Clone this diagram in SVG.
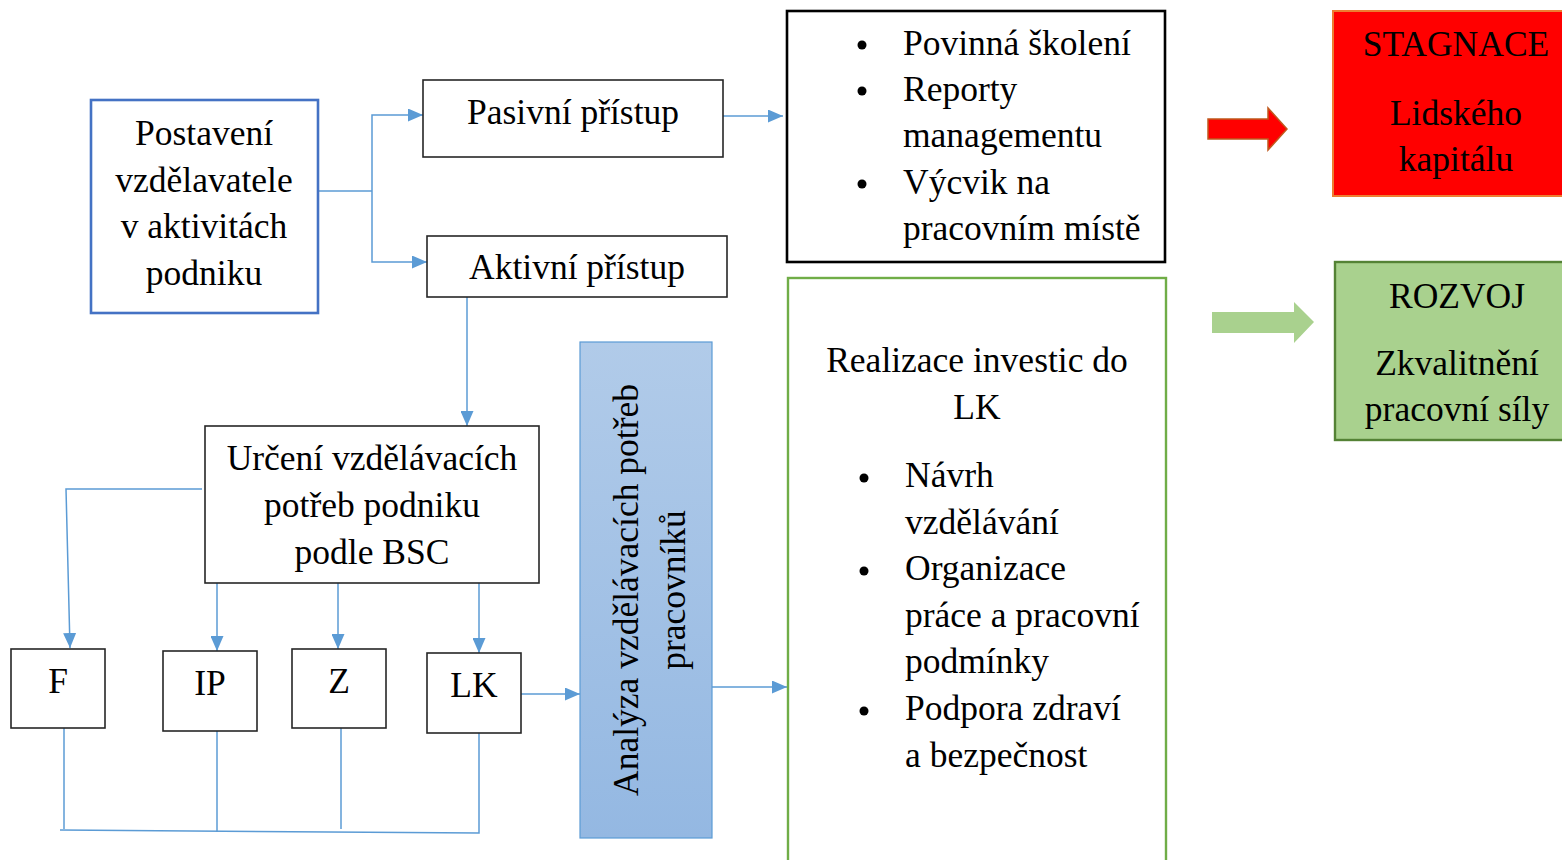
<svg xmlns="http://www.w3.org/2000/svg" width="1562" height="860" viewBox="0 0 1562 860">
<defs>
<marker id="arr" viewBox="0 0 15 13" refX="15" refY="6.5" markerWidth="15" markerHeight="13" markerUnits="userSpaceOnUse" orient="auto">
<path d="M0,0 L15,6.5 L0,13 z" fill="#5b9bd5"/>
</marker>
<linearGradient id="blueGrad" x1="0" y1="0" x2="0" y2="1">
<stop offset="0" stop-color="#b1cbe9"/>
<stop offset="1" stop-color="#94b8e2"/>
</linearGradient>
<style>
text{font-family:"Liberation Serif","Times New Roman",serif;font-size:35.5px;fill:#000}
.c{text-anchor:middle}
.box{fill:#fff;stroke:#262626;stroke-width:1.6}
.conn{fill:none;stroke:#5b9bd5;stroke-width:1.5}
.bul{fill:#000}
</style>
</defs>

<g id="connectors">
<path class="conn" d="M318,191 H372"/>
<path class="conn" d="M372,191 V115 H423" marker-end="url(#arr)"/>
<path class="conn" d="M372,191 V262 H427" marker-end="url(#arr)"/>
<path class="conn" d="M723,116 H783" marker-end="url(#arr)"/>
<path class="conn" d="M467,297 V426" marker-end="url(#arr)"/>
<path class="conn" d="M202,489 H66 L70,648" marker-end="url(#arr)"/>
<path class="conn" d="M217,583 V651" marker-end="url(#arr)"/>
<path class="conn" d="M338,583 V649" marker-end="url(#arr)"/>
<path class="conn" d="M479,583 V653" marker-end="url(#arr)"/>
<path class="conn" d="M521,694 H580" marker-end="url(#arr)"/>
<path class="conn" d="M712,687 H787" marker-end="url(#arr)"/>
<path class="conn" d="M64,728 V829"/>
<path class="conn" d="M217,731 V832"/>
<path class="conn" d="M341,728 V829"/>
<path class="conn" d="M479,733 V833 L60,830"/>
</g>

<g id="postaveni">
<rect x="91" y="100" width="227" height="213" fill="#fff" stroke="#4472c4" stroke-width="2.6"/>
<text class="c" x="204" y="145">Postavení</text>
<text class="c" x="204" y="192">vzdělavatele</text>
<text class="c" x="204" y="238">v aktivitách</text>
<text class="c" x="204" y="285">podniku</text>
</g>

<g id="pasivni">
<rect class="box" x="423" y="80" width="300" height="77"/>
<text class="c" x="573" y="124">Pasivní přístup</text>
</g>

<g id="aktivni">
<rect class="box" x="427" y="236" width="300" height="61"/>
<text class="c" x="577" y="279">Aktivní přístup</text>
</g>

<g id="pasivni-obsah">
<rect x="787" y="11" width="378" height="251" fill="#fff" stroke="#000" stroke-width="2.6"/>
<circle class="bul" cx="862" cy="45" r="4.5"/>
<circle class="bul" cx="862" cy="91" r="4.5"/>
<circle class="bul" cx="862" cy="184" r="4.5"/>
<text x="903" y="55">Povinná školení</text>
<text x="903" y="101">Reporty</text>
<text x="903" y="147">managementu</text>
<text x="903" y="194">Výcvik na</text>
<text x="903" y="240">pracovním místě</text>
</g>

<g id="sipka-stagnace">
<path d="M1208,119 H1268 V108 L1287,129 L1268,150 V139 H1208 Z" fill="#ff0000" stroke="#c0581c" stroke-width="1.5"/>
</g>

<g id="stagnace">
<rect x="1333" y="11" width="240" height="185" fill="#ff0000" stroke="#ed7d31" stroke-width="2"/>
<text class="c" x="1456" y="56">STAGNACE</text>
<text class="c" x="1456" y="125">Lidského</text>
<text class="c" x="1456" y="171">kapitálu</text>
</g>

<g id="sipka-rozvoj">
<path d="M1212,312 H1294 V302 L1314,322 L1294,343 V333 H1212 Z" fill="#a9d18e"/>
</g>

<g id="rozvoj">
<rect x="1335" y="262" width="240" height="178" fill="#a9d18e" stroke="#548235" stroke-width="2.4"/>
<text class="c" x="1457" y="308">ROZVOJ</text>
<text class="c" x="1457" y="375">Zkvalitnění</text>
<text class="c" x="1457" y="421">pracovní síly</text>
</g>

<g id="aktivni-obsah">
<rect x="788" y="278" width="378" height="600" fill="#fff" stroke="#70ad47" stroke-width="2.4"/>
<text class="c" x="977" y="372">Realizace investic do</text>
<text class="c" x="977" y="419">LK</text>
<circle class="bul" cx="864" cy="478" r="4.5"/>
<circle class="bul" cx="864" cy="571" r="4.5"/>
<circle class="bul" cx="864" cy="711" r="4.5"/>
<text x="905" y="487">Návrh</text>
<text x="905" y="534">vzdělávání</text>
<text x="905" y="580">Organizace</text>
<text x="905" y="627">práce a pracovní</text>
<text x="905" y="673">podmínky</text>
<text x="905" y="720">Podpora zdraví</text>
<text x="905" y="767">a bezpečnost</text>
</g>

<g id="urceni">
<rect class="box" x="205" y="426" width="334" height="157"/>
<text class="c" x="372" y="470">Určení vzdělávacích</text>
<text class="c" x="372" y="517">potřeb podniku</text>
<text class="c" x="372" y="564">podle BSC</text>
</g>

<g id="F">
<rect class="box" x="11" y="649" width="94" height="79"/>
<text class="c" x="58" y="693">F</text>
</g>
<g id="IP">
<rect class="box" x="163" y="651" width="94" height="80"/>
<text class="c" x="210" y="695">IP</text>
</g>
<g id="Z">
<rect class="box" x="292" y="649" width="94" height="79"/>
<text class="c" x="339" y="693">Z</text>
</g>
<g id="LK">
<rect class="box" x="427" y="653" width="94" height="80"/>
<text class="c" x="474" y="697">LK</text>
</g>

<g id="analyza">
<rect x="580" y="342" width="132" height="496" fill="url(#blueGrad)" stroke="#5b9bd5" stroke-width="1.2"/>
<g transform="translate(0,590) rotate(-90)">
<text class="c" x="0" y="638">Analýza vzdělávacích potřeb</text>
<text class="c" x="0" y="685">pracovníků</text>
</g>
</g>
</svg>
